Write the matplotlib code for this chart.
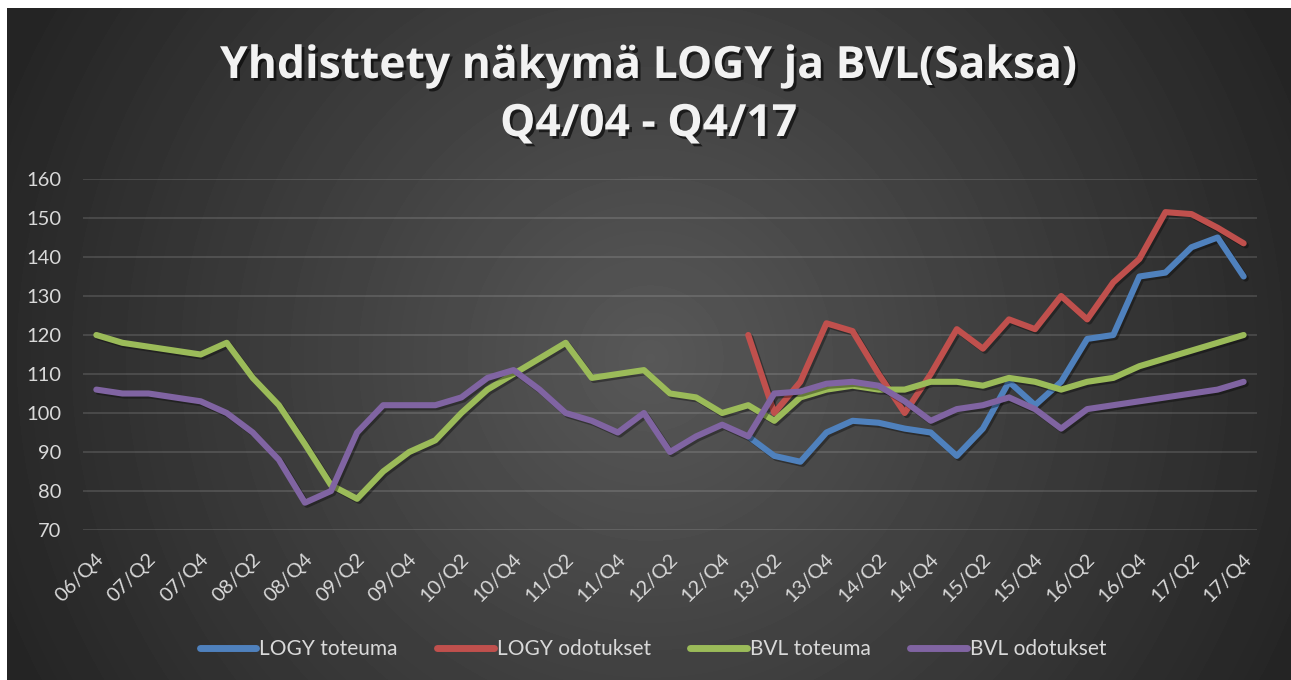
import numpy as np
import matplotlib.pyplot as plt
from matplotlib import patheffects as pe
from matplotlib.transforms import ScaledTranslation

plt.rcParams['font.family'] = ['Lato', 'DejaVu Sans']

# Neljännekset 06/Q4 ... 17/Q4
quarters = [
    '06/Q4',
    '07/Q1', '07/Q2', '07/Q3', '07/Q4', '08/Q1', '08/Q2', '08/Q3', '08/Q4',
    '09/Q1', '09/Q2', '09/Q3', '09/Q4', '10/Q1', '10/Q2', '10/Q3', '10/Q4',
    '11/Q1', '11/Q2', '11/Q3', '11/Q4', '12/Q1', '12/Q2', '12/Q3', '12/Q4',
    '13/Q1', '13/Q2', '13/Q3', '13/Q4', '14/Q1', '14/Q2', '14/Q3', '14/Q4',
    '15/Q1', '15/Q2', '15/Q3', '15/Q4', '16/Q1', '16/Q2', '16/Q3', '16/Q4',
    '17/Q1', '17/Q2', '17/Q3', '17/Q4',
]

nan = np.nan
logy_toteuma = [nan] * 25 + [
    94, 89, 87.5, 95, 98, 97.5, 96, 95, 89, 96,
    108, 102, 108, 119, 120, 135, 136, 142.5, 145, 135,
]
logy_odotukset = [nan] * 25 + [
    120, 100, 108, 123, 121, 110, 100, 110, 121.5, 116.5,
    124, 121.5, 130, 124, 133.5, 139.5, 151.5, 151, 147.5, 143.5,
]
bvl_toteuma = [
    120, 118, 117, 116, 115, 118, 109, 102, 92, 81.5,
    78, 85, 90, 93, 100, 106, 110, 114, 118, 109,
    110, 111, 105, 104, 100, 102, 98, 104, 106, 107,
    106, 106, 108, 108, 107, 109, 108, 106, 108, 109,
    112, 114, 116, 118, 120,
]
bvl_odotukset = [
    106, 105, 105, 104, 103, 100, 95, 88, 77, 80,
    95, 102, 102, 102, 104, 109, 111, 106, 100, 98,
    95, 100, 90, 94, 97, 94, 105, 105.5, 107.5, 108,
    107, 103, 98, 101, 102, 104, 101, 96, 101, 102,
    103, 104, 105, 106, 108,
]

series = [
    ('LOGY toteuma', logy_toteuma, '#4F81BD'),
    ('LOGY odotukset', logy_odotukset, '#C0504D'),
    ('BVL toteuma', bvl_toteuma, '#9BBB59'),
    ('BVL odotukset', bvl_odotukset, '#8064A2'),
]

W, H = 1291, 680
fig = plt.figure(figsize=(W / 100, H / 100), dpi=100, facecolor='white')

# tumma säteittäinen liukuväritausta
bg = fig.add_axes([7 / W, 0, (W - 7) / W, (H - 8) / H], zorder=0)
yy, xx = np.mgrid[0:H - 8, 0:W - 7]
d = np.hypot(xx - 643, yy - 350)
shade = (0x58 - 0x33 * np.clip(d / 700, 0, 1)) / 255
bg.imshow(shade, cmap='gray', vmin=0, vmax=1, aspect='auto', interpolation='bilinear')
bg.axis('off')

ax = fig.add_axes([83.3 / W, (H - 530) / H, (1256.7 - 83.3) / W, (530 - 179) / H], zorder=1)
ax.set_facecolor('none')

x = np.arange(len(quarters))
shadow = [pe.SimpleLineShadow(offset=(1.5, -1.5), alpha=0.35, shadow_color='black'), pe.Normal()]
for name, vals, col in series:
    ax.plot(x, vals, color=col, lw=4.4, label=name, solid_capstyle='round',
            solid_joinstyle='round', path_effects=shadow)

ax.set_xlim(-0.5, len(quarters) - 0.5)
ax.set_ylim(70, 160)
ax.set_yticks(range(70, 161, 10))
ax.grid(axis='y', color='white', alpha=0.15, lw=1.2)
ax.set_axisbelow(True)
for s in ax.spines.values():
    s.set_visible(False)

ax.set_xticks(x[::2])
ax.set_xticklabels(quarters[::2], rotation=45, ha='right', va='center', rotation_mode='anchor')
ax.tick_params(axis='x', length=0, pad=19, labelsize=14.5, labelcolor='#D9D9D9')
ax.tick_params(axis='y', length=0, pad=16, labelsize=14.5, labelcolor='#D9D9D9')
shift = ScaledTranslation(5 / 100, 0, fig.dpi_scale_trans)
for lab in ax.get_xticklabels():
    lab.set_transform(lab.get_transform() + shift)

title_fx = [pe.withSimplePatchShadow(offset=(2, -2), shadow_rgbFace='black', alpha=0.6)]
title_font = dict(ha='center', va='baseline', fontsize=32, fontweight='bold', color='#F2F2F2',
                  family=['Open Sans', 'DejaVu Sans'], path_effects=title_fx)
fig.text(649 / W, 1 - 78 / H, 'Yhdisttety näkymä LOGY ja BVL(Saksa)', **title_font)
fig.text(649 / W, 1 - 136 / H, 'Q4/04 - Q4/17', **title_font)

leg = fig.legend(loc='center', bbox_to_anchor=(653 / W, 1 - 649 / H), ncol=4, frameon=False,
                 fontsize=15, handlelength=2.7, handletextpad=0.15, columnspacing=1.9)
for t in leg.get_texts():
    t.set_color('#D9D9D9')
for ln in leg.get_lines():
    ln.set_linewidth(5)
    ln.set_path_effects([])
    ln.set_solid_capstyle('round')

fig.savefig('out.png', dpi=100, facecolor=fig.get_facecolor())
